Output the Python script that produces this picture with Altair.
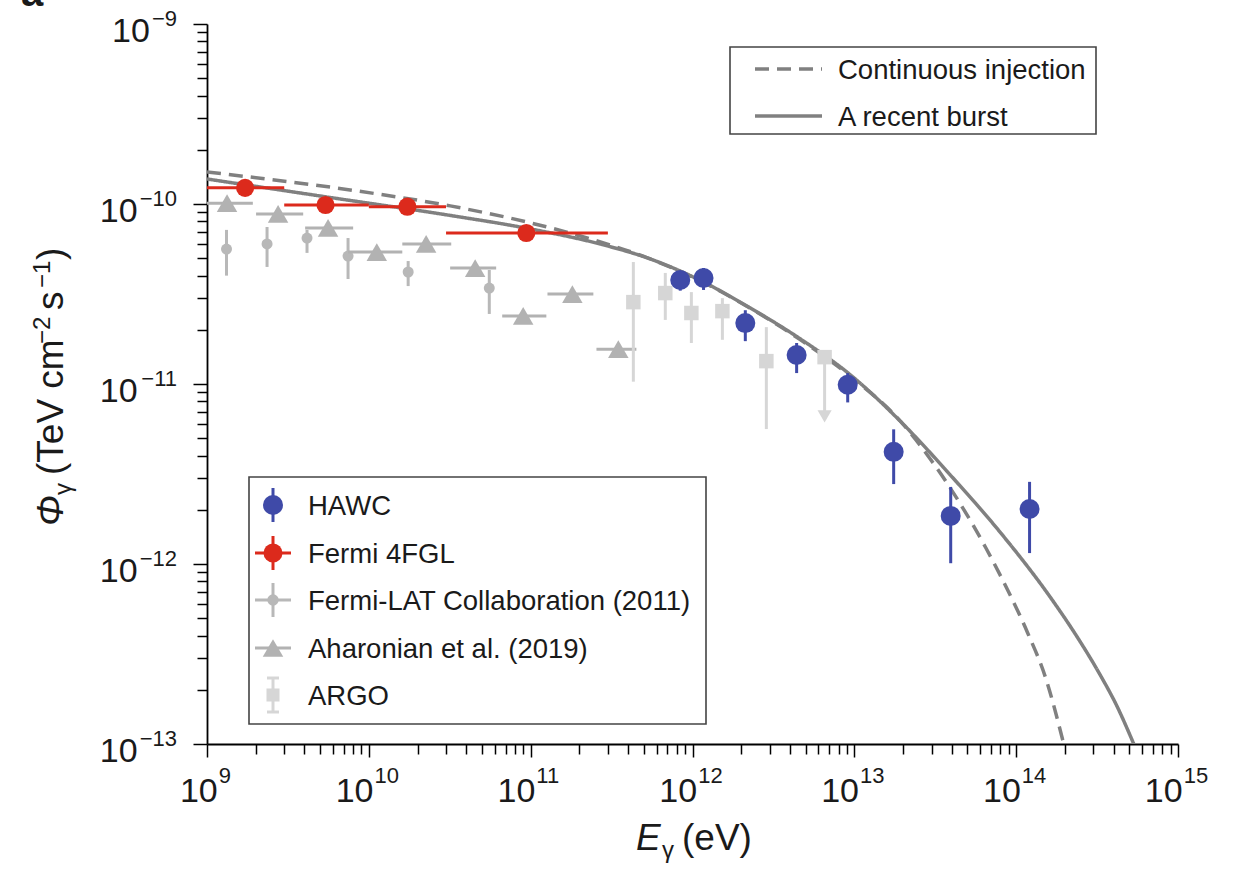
import altair as alt
import pandas as pd

# ---------------- data ----------------
hawc_E = [8.4e11, 1.17e12, 2.12e12, 4.4e12, 9.1e12, 1.75e13, 3.94e13, 1.21e14]
hawc_F = [3.78e-11, 3.88e-11, 2.18e-11, 1.45e-11, 9.9e-12, 4.2e-12, 1.85e-12, 2.02e-12]
hawc_lo = [3.3e-11, 3.33e-11, 1.73e-11, 1.15e-11, 7.9e-12, 2.78e-12, 1.01e-12, 1.15e-12]
hawc_hi = [4.2e-11, 4.41e-11, 2.57e-11, 1.69e-11, 1.15e-11, 5.6e-12, 2.68e-12, 2.86e-12]

fgl_E = [1.72e9, 5.4e9, 1.73e10, 9.4e10]
fgl_F = [1.23e-10, 9.87e-11, 9.66e-11, 6.9e-11]
fgl_Elo = [1.0e9, 3.0e9, 1.0e10, 3.0e10]
fgl_Ehi = [3.0e9, 1.0e10, 3.0e10, 3.0e11]

lat_E = [1.32e9, 2.35e9, 4.15e9, 7.44e9, 1.75e10, 5.55e10]
lat_F = [5.62e-11, 6.0e-11, 6.47e-11, 5.14e-11, 4.19e-11, 3.41e-11]
lat_lo = [4.0e-11, 4.47e-11, 5.35e-11, 3.83e-11, 3.5e-11, 2.45e-11]
lat_hi = [7.18e-11, 7.45e-11, 7.18e-11, 6.47e-11, 4.82e-11, 4.3e-11]

aha_E = [1.33e9, 2.75e9, 5.6e9, 1.12e10, 2.26e10, 4.54e10, 8.99e10, 1.81e11, 3.48e11]
aha_F = [1.01e-10, 8.8e-11, 7.36e-11, 5.41e-11, 6.0e-11, 4.41e-11, 2.39e-11, 3.16e-11, 1.56e-11]
aha_Elo = [1.0e9, 2.01e9, 4.04e9, 7.45e9, 1.61e10, 3.18e10, 6.67e10, 1.27e11, 2.55e11]
aha_Ehi = [1.92e9, 3.93e9, 8.0e9, 1.61e10, 3.23e10, 6.12e10, 1.25e11, 2.44e11, 4.5e11]

argo_E = [4.31e11, 6.79e11, 9.84e11, 1.53e12, 2.86e12]
argo_F = [2.85e-11, 3.2e-11, 2.48e-11, 2.54e-11, 1.34e-11]
argo_lo = [1.03e-11, 2.27e-11, 1.69e-11, 1.76e-11, 5.62e-12]
argo_hi = [4.76e-11, 4.14e-11, 3.24e-11, 3.0e-11, 2.07e-11]
argo_ul_E = [6.55e12]
argo_ul_F = [1.41e-11]
argo_ul_tip = [6.6e-12]

burst_E = [1.0e9, 5.765e9, 3.183e10, 9.26e10, 2.694e11, 5.49e11, 1.119e12, 2.281e12, 4.649e12,
           9.474e12, 1.931e13, 3.934e13, 8.02e13, 1.635e14, 2.333e14, 3.331e14, 4.124e14, 5.33e14]
burst_F = [1.377e-10, 1.087e-10, 8.64e-11, 7.36e-11, 5.99e-11, 4.95e-11, 3.76e-11, 2.64e-11, 1.778e-11,
           1.122e-11, 6.19e-12, 3.11e-12, 1.49e-12, 6.49e-13, 4.05e-13, 2.39e-13, 1.675e-13, 1.0e-13]
cont_E = [1.0e9, 7.663e9, 3.183e10, 9.26e10, 2.694e11, 5.49e11, 1.119e12, 2.281e12, 4.649e12,
          9.474e12, 1.931e13, 2.96e13, 4.537e13, 6.478e13, 8.858e13, 1.178e14, 1.522e14, 1.967e14]
cont_F = [1.506e-10, 1.197e-10, 9.76e-11, 7.98e-11, 6.16e-11, 4.95e-11, 3.74e-11, 2.63e-11, 1.758e-11,
          1.102e-11, 6.20e-12, 3.81e-12, 2.144e-12, 1.235e-12, 7.17e-13, 4.14e-13, 2.325e-13, 1.0e-13]

x_exps = [9, 10, 11, 12, 13, 14, 15]
y_exps = [-13, -12, -11, -10, -9]
model_names = ["Continuous injection", "A recent burst"]
series_names = ["HAWC", "Fermi 4FGL", "Fermi-LAT Collaboration (2011)", "Aharonian et al. (2019)", "ARGO"]

# ---------------- styling ----------------
FONT = "Liberation Sans, Arial, Helvetica, sans-serif"
W, H = 971, 720
BLUE = "#3f4aa8"
RED = "#dc2a1c"
GREY1 = "#b8b8b8"
GREY2 = "#b2b2b2"
GREY3 = "#d6d6d6"
CURVE = "#808080"
TXT = "#1a1a1a"

xs = alt.Scale(type="log", domain=[1e9, 1e15], nice=False)
ys = alt.Scale(type="log", domain=[1e-13, 1e-9], nice=False)

xticks = [k * 10.0 ** n for n in x_exps[:-1] for k in range(1, 10)] + [10.0 ** x_exps[-1]]
yticks = [k * 10.0 ** n for n in y_exps[:-1] for k in range(1, 10)] + [10.0 ** y_exps[-1]]
major = "abs(log(datum.value)/LN10 - round(log(datum.value)/LN10)) < 0.001"

x_axis = alt.Axis(values=xticks, labels=False, title=None, grid=False,
                  tickSize={"condition": {"test": major, "value": 13}, "value": 10},
                  tickColor="black", tickWidth=1.5, domainColor="black", domainWidth=1.8)
y_axis = alt.Axis(values=yticks, labels=False, title=None, grid=False,
                  tickSize={"condition": {"test": major, "value": 14}, "value": 10},
                  tickColor="black", tickWidth=1.5, domainColor="black", domainWidth=1.8)


def X(field):
    return alt.X(field, type="quantitative", scale=xs, axis=x_axis)


def Y(field):
    return alt.Y(field, type="quantitative", scale=ys, axis=y_axis)


# ---------------- curves ----------------
curves_df = pd.concat([
    pd.DataFrame({"E": cont_E, "F": cont_F, "model": model_names[0]}),
    pd.DataFrame({"E": burst_E, "F": burst_F, "model": model_names[1]}),
])
curves = alt.Chart(curves_df).mark_line(
    clip=True, strokeWidth=3.5, color=CURVE, interpolate="monotone"
).encode(
    x=X("E"), y=Y("F"),
    strokeDash=alt.StrokeDash("model:N", scale=alt.Scale(domain=model_names, range=[[14, 8], [1, 0]]), legend=None),
)

layers = [curves]

# Fermi-LAT 2011
lat_df = pd.DataFrame({"E": lat_E, "F": lat_F, "lo": lat_lo, "hi": lat_hi})
layers.append(alt.Chart(lat_df).mark_rule(color=GREY1, strokeWidth=3).encode(x=X("E"), y=Y("lo"), y2="hi"))
layers.append(alt.Chart(lat_df).mark_point(filled=True, shape="circle", size=121, color=GREY1, opacity=1).encode(x=X("E"), y=Y("F")))

# Aharonian 2019
aha_df = pd.DataFrame({"E": aha_E, "F": aha_F, "Elo": aha_Elo, "Ehi": aha_Ehi})
layers.append(alt.Chart(aha_df).mark_rule(color=GREY2, strokeWidth=3).encode(x=X("Elo"), x2="Ehi", y=Y("F")))
layers.append(alt.Chart(aha_df).mark_point(filled=True, shape="triangle-up", size=420, color=GREY2, opacity=1).encode(x=X("E"), y=Y("F")))

# ARGO
argo_df = pd.DataFrame({"E": argo_E, "F": argo_F, "lo": argo_lo, "hi": argo_hi})
layers.append(alt.Chart(argo_df).mark_rule(color=GREY3, strokeWidth=3).encode(x=X("E"), y=Y("lo"), y2="hi"))
layers.append(alt.Chart(argo_df).mark_point(filled=True, shape="square", size=210, color=GREY3, opacity=1).encode(x=X("E"), y=Y("F")))
ul_df = pd.DataFrame({"E": argo_ul_E, "F": argo_ul_F, "tip": argo_ul_tip})
layers.append(alt.Chart(ul_df).mark_rule(color=GREY3, strokeWidth=3).encode(x=X("E"), y=Y("tip"), y2="F"))
layers.append(alt.Chart(ul_df).mark_point(filled=True, shape="square", size=210, color=GREY3, opacity=1).encode(x=X("E"), y=Y("F")))
layers.append(alt.Chart(ul_df).mark_point(filled=True, shape="triangle-down", size=200, color=GREY3, opacity=1).encode(x=X("E"), y=Y("tip")))

# Fermi 4FGL
fgl_df = pd.DataFrame({"E": fgl_E, "F": fgl_F, "Elo": fgl_Elo, "Ehi": fgl_Ehi})
layers.append(alt.Chart(fgl_df).mark_rule(color=RED, strokeWidth=3).encode(x=X("Elo"), x2="Ehi", y=Y("F")))
layers.append(alt.Chart(fgl_df).mark_point(filled=True, shape="circle", size=330, color=RED, opacity=1).encode(x=X("E"), y=Y("F")))

# HAWC
hawc_df = pd.DataFrame({"E": hawc_E, "F": hawc_F, "lo": hawc_lo, "hi": hawc_hi})
layers.append(alt.Chart(hawc_df).mark_rule(color=BLUE, strokeWidth=3).encode(x=X("E"), y=Y("lo"), y2="hi"))
layers.append(alt.Chart(hawc_df).mark_point(filled=True, shape="circle", size=400, color=BLUE, opacity=1).encode(x=X("E"), y=Y("F")))

# ---------------- tick labels (10 + superscript exponent) ----------------
BASE_FS, EXP_FS = 34, 22
MINUS = "\u2212"


def exp_str(n):
    return (MINUS if n < 0 else "") + str(abs(n))


def exp_width(n):
    s = exp_str(n)
    return EXP_FS * (0.584 * s.count(MINUS) + 0.556 * (len(s) - s.count(MINUS)))


for n in y_exps:
    d = pd.DataFrame({"v": [10.0 ** n], "base": ["10"], "exp": [exp_str(n)]})
    ew = exp_width(n)
    layers.append(alt.Chart(d).mark_text(font=FONT, fontSize=EXP_FS, align="right", baseline="alphabetic",
                                         dy=2, color=TXT).encode(x=alt.value(-30), y=Y("v"), text="exp:N"))
    layers.append(alt.Chart(d).mark_text(font=FONT, fontSize=BASE_FS, align="right", baseline="alphabetic",
                                         dy=18, color=TXT).encode(x=alt.value(-30 - ew - 2), y=Y("v"), text="base:N"))

for n in x_exps:
    d = pd.DataFrame({"v": [10.0 ** n], "base": ["10"], "exp": [exp_str(n)]})
    ew = exp_width(n)
    off = (BASE_FS * 1.112 - ew) / 2 - 2
    layers.append(alt.Chart(d).mark_text(font=FONT, fontSize=BASE_FS, align="right", baseline="alphabetic",
                                         dx=off, color=TXT).encode(x=X("v"), y=alt.value(778), text="base:N"))
    layers.append(alt.Chart(d).mark_text(font=FONT, fontSize=EXP_FS, align="left", baseline="alphabetic",
                                         dx=off + 1, color=TXT).encode(x=X("v"), y=alt.value(759), text="exp:N"))

one = pd.DataFrame({"k": [0]})


def txt(s, x, y, size, angle=0, style="normal", align="left", weight="normal"):
    return alt.Chart(one).mark_text(text=s, font=FONT, fontSize=size, fontStyle=style, fontWeight=weight,
                                    align=align, baseline="alphabetic", angle=angle, color=TXT
                                    ).encode(x=alt.value(x), y=alt.value(y))


# ---------------- axis titles ----------------
TFS, TSUB = 37, 24
# x title: E_gamma (eV)
layers.append(txt("E", 429, 826, TFS, style="italic"))
layers.append(txt("\u03b3", 455, 834, TSUB))
layers.append(txt("(eV)", 475, 826, TFS))
# y title (rotated, reads bottom to top)
bx = 63 - 207
layers.append(txt("\u03a6", bx, 526 - 24, TFS, angle=270, style="italic"))
layers.append(txt("\u03b3", bx + 8, 495 - 24, TSUB, angle=270))
layers.append(txt("(TeV cm", bx, 475 - 24, TFS, angle=270))
layers.append(txt(MINUS + "2", bx - 13, 344 - 24, TSUB, angle=270))
layers.append(txt("s", bx, 310 - 24, TFS, angle=270))
layers.append(txt(MINUS + "1", bx - 13, 288 - 24, TSUB, angle=270))
layers.append(txt(")", bx, 260 - 24, TFS, angle=270))
# partially visible panel letter
layers.append(txt("a", -186, -18, 40, weight="bold"))


# ---------------- legends (drawn as marks) ----------------
def rect(x1, x2, y1, y2):
    return alt.Chart(one).mark_rect(fill="white", stroke="#444444", strokeWidth=1.6).encode(
        x=alt.value(x1), x2=alt.value(x2), y=alt.value(y1), y2=alt.value(y2))


def hline(x1, x2, y, color, width=3, dash=None):
    kw = dict(color=color, strokeWidth=width)
    if dash:
        kw["strokeDash"] = dash
    return alt.Chart(one).mark_rule(**kw).encode(x=alt.value(x1), x2=alt.value(x2), y=alt.value(y))


def vline(x, y1, y2, color, width=3):
    return alt.Chart(one).mark_rule(color=color, strokeWidth=width).encode(
        x=alt.value(x), y=alt.value(y1), y2=alt.value(y2))


def sym(x, y, shape, size, color):
    return alt.Chart(one).mark_point(filled=True, shape=shape, size=size, color=color, opacity=1).encode(
        x=alt.value(x), y=alt.value(y))


LFS = 27.5
layers.append(rect(523, 889, 23, 110))
layers.append(hline(548, 615, 45, CURVE, 3.5, [14, 8]))
layers.append(txt(model_names[0], 631, 45 + 10, LFS))
layers.append(hline(548, 615, 92, CURVE, 3.5))
layers.append(txt(model_names[1], 631, 92 + 10, LFS))

layers.append(rect(42, 499, 453, 700))
rows = [481, 529, 576, 624, 671]
cx = 66
# HAWC
layers.append(vline(cx, rows[0] - 17, rows[0] + 17, BLUE))
layers.append(sym(cx, rows[0], "circle", 400, BLUE))
# Fermi 4FGL
layers.append(vline(cx, rows[1] - 17, rows[1] + 17, RED))
layers.append(hline(48, 84, rows[1], RED))
layers.append(sym(cx, rows[1], "circle", 360, RED))
# Fermi-LAT
layers.append(vline(cx, rows[2] - 17, rows[2] + 17, GREY1))
layers.append(hline(48, 84, rows[2], GREY1))
layers.append(sym(cx, rows[2], "circle", 130, GREY1))
# Aharonian
layers.append(hline(48, 84, rows[3], GREY2))
layers.append(sym(cx, rows[3], "triangle-up", 420, GREY2))
# ARGO
layers.append(vline(cx, rows[4] - 17, rows[4] + 17, GREY3))
layers.append(hline(60, 72, rows[4] - 17, GREY3))
layers.append(hline(60, 72, rows[4] + 17, GREY3))
layers.append(sym(cx, rows[4], "square", 170, GREY3))
for name, ry in zip(series_names, rows):
    layers.append(txt(name, 101, ry + 10, LFS))

chart = alt.layer(*layers).properties(
    width=W, height=H,
    padding={"left": 207, "top": 24, "right": 59, "bottom": 133},
    autosize=alt.AutoSizeParams(type="none"),
).configure(background="white").configure_view(stroke=None)

chart.save("out.html", embed_options={"renderer": "svg", "actions": False})
